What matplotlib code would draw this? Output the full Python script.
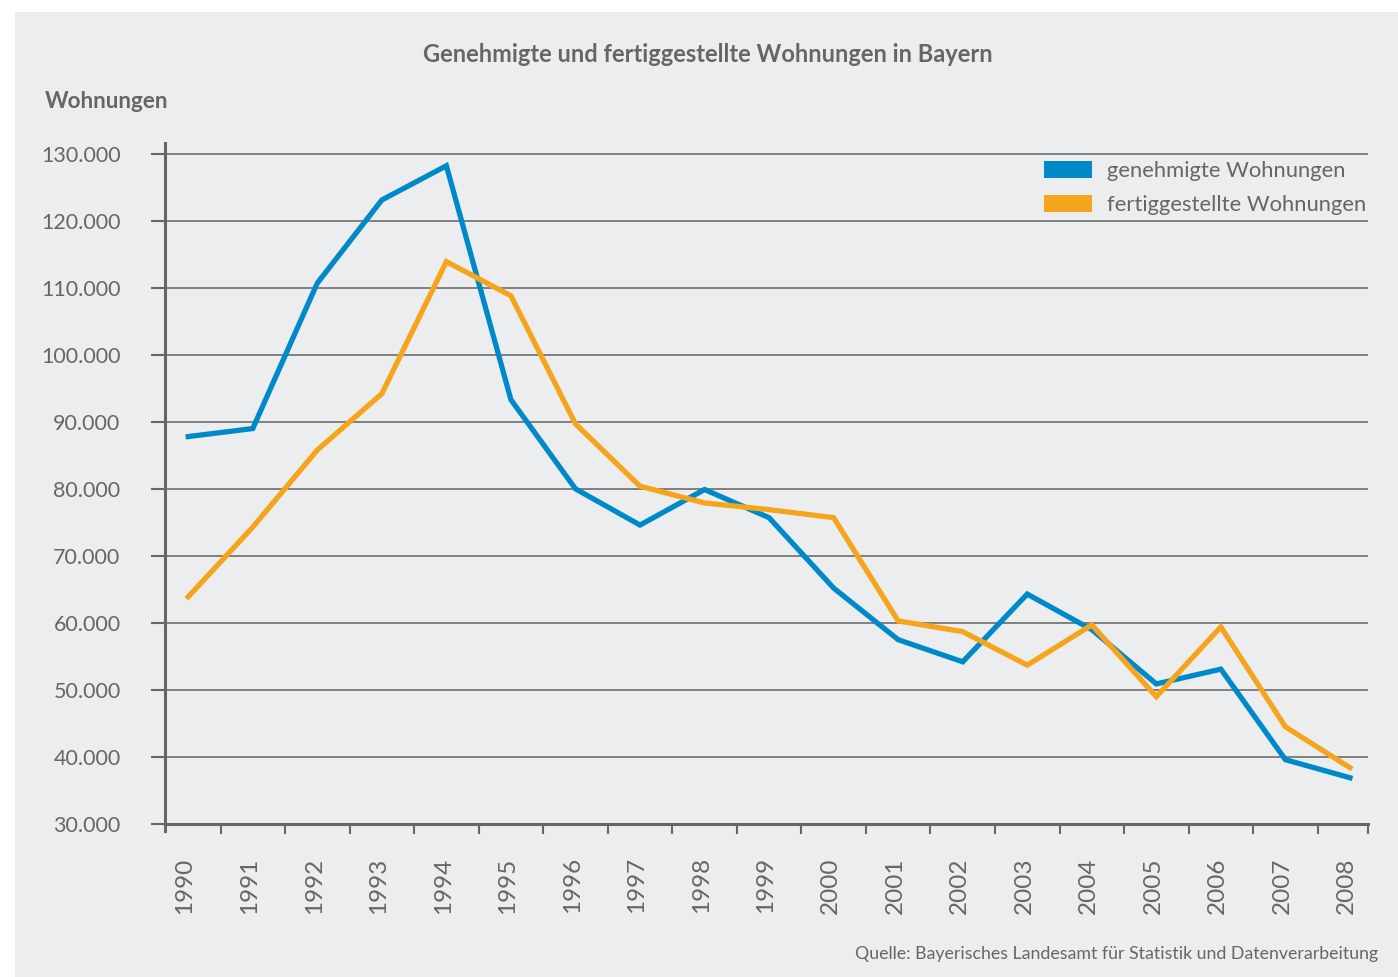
import numpy as np
import matplotlib
matplotlib.use('Agg')
import matplotlib.pyplot as plt
from matplotlib.patches import Patch, Rectangle

plt.rcParams['font.family'] = ['Lato', 'DejaVu Sans']

# data
years = [str(y) for y in range(1990, 2009)]
genehmigt = [87800, 89000, 110700, 123100, 128200, 93300, 80000, 74600, 79900,
             75700, 65200, 57500, 54200, 64300, 59000, 50900, 53100, 39600, 36900]
fertig = [63900, 74300, 85800, 94200, 113900, 108800, 89700, 80400, 77900,
          76900, 75700, 60300, 58700, 53700, 59700, 49000, 59400, 44500, 38400]
y_ticks = list(range(30000, 130001, 10000))

blue = '#0089C8'
orange = '#F5A51C'
grey = '#666666'
bg = '#ECEDEF'

fig = plt.figure(figsize=(13.98, 9.77), dpi=100)
fig.patch.set_facecolor('white')
# grey panel with white strip on top/left
fig.patches.append(Rectangle((15 / 1398, 0), 1 - 15 / 1398, 1 - 12 / 977,
                             transform=fig.transFigure, facecolor=bg,
                             edgecolor='none', zorder=-10))

ax = fig.add_axes([165 / 1398, 1 - 824 / 977, (1368 - 165) / 1398, (824 - 143) / 977])
ax.set_facecolor('none')

x = np.arange(len(years))
ax.plot(x, genehmigt, color=blue, lw=3.8, solid_joinstyle='miter', zorder=3)
ax.plot(x, fertig, color=orange, lw=3.8, solid_joinstyle='miter', zorder=3)

ax.set_xlim(-0.36, 18.28)
ax.set_ylim(30000, 131600)

# grid
for v in y_ticks[1:]:
    ax.axhline(v, color='#777777', lw=1.3, zorder=1)

ax.set_yticks(y_ticks)
ax.set_yticklabels([f'{v:,}'.replace(',', '.') for v in y_ticks])
ax.set_xticks(x - 0.05)
ax.set_xticklabels(years, rotation=90)
ax.set_xticks(list(np.arange(len(years) - 1) + 0.5) + [18.28], minor=True)

ax.tick_params(axis='y', which='major', length=10, width=1.5, color=grey,
               labelcolor=grey, labelsize=15.5, pad=22)
ax.tick_params(axis='x', which='major', length=0, labelcolor=grey,
               labelsize=17.5, pad=24)
ax.tick_params(axis='x', which='minor', length=7, width=1.5, color=grey)

for s in ['top', 'right']:
    ax.spines[s].set_visible(False)
ax.spines['left'].set_color(grey)
ax.spines['left'].set_linewidth(2.2)
ax.spines['left'].set_bounds(28900, 131600)
ax.spines['bottom'].set_color(grey)
ax.spines['bottom'].set_linewidth(2.2)

handles = [Patch(facecolor=blue, label='genehmigte Wohnungen'),
           Patch(facecolor=orange, label='fertiggestellte Wohnungen')]
leg = ax.legend(handles=handles, loc='upper right', bbox_to_anchor=(1.006, 0.986),
                frameon=False, fontsize=15.8, handlelength=2.19, handleheight=0.82,
                handletextpad=0.68, labelspacing=0.6, borderaxespad=0)
for t in leg.get_texts():
    t.set_color(grey)

fig.text(708 / 1398, 1 - 55 / 977, 'Genehmigte und fertiggestellte Wohnungen in Bayern',
         ha='center', va='center', fontsize=17, fontweight='bold', color=grey)
fig.text(45 / 1398, 1 - 101 / 977, 'Wohnungen', ha='left', va='center',
         fontsize=16.2, fontweight='bold', color=grey)
fig.text(1378 / 1398, 1 - 954 / 977,
         'Quelle: Bayerisches Landesamt für Statistik und Datenverarbeitung',
         ha='right', va='center', fontsize=12.8, color=grey)

fig.savefig('out.png', dpi=100, facecolor=fig.get_facecolor())
